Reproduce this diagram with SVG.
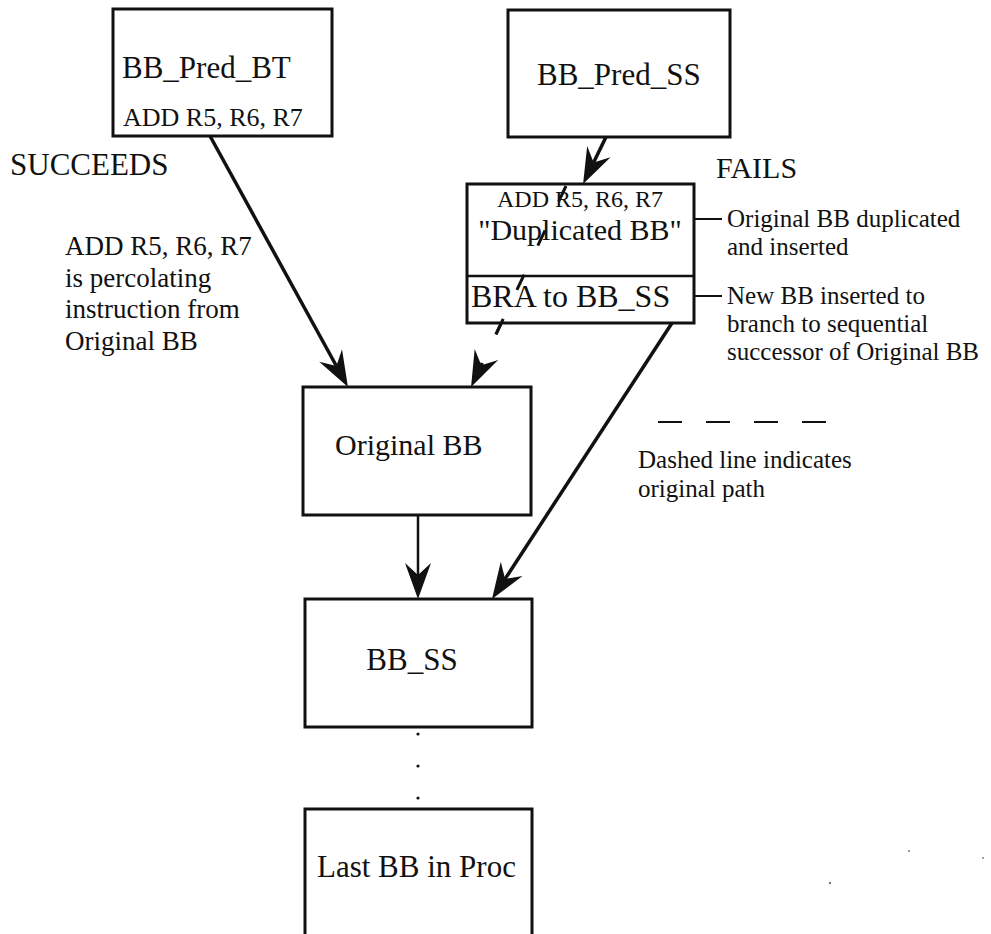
<svg xmlns="http://www.w3.org/2000/svg" width="991" height="934" viewBox="0 0 991 934">
  <style>
    .box { fill: #fff; stroke: #111; stroke-width: 3; }
    .sep { stroke: #111; stroke-width: 2.5; }
    .t { font-family: "Liberation Serif", "Times New Roman", serif; fill: #111; }
    .conn { stroke: #111; stroke-width: 3.5; fill: none; }
    .thin { stroke: #111; stroke-width: 2.5; fill: none; }
    .dash { stroke: #111; stroke-width: 3; fill: none; stroke-dasharray: 17 32; }
    .lead { stroke: #111; stroke-width: 2; }
  </style>
  <defs>
    <!-- barbed arrowhead; the line ends at the notch, tip lies 24 units further on -->
    <marker id="head" markerUnits="userSpaceOnUse" viewBox="-14 -16 40 32" markerWidth="40" markerHeight="32" refX="0" refY="0" orient="auto">
      <path d="M24,0 L-12,-13 L0,0 L-12,13 Z" fill="#111"/>
    </marker>
  </defs>
  <rect width="991" height="934" fill="#fff"/>

  <g id="connectors">
    <line class="conn" x1="210" y1="136" x2="336.4" y2="366" marker-end="url(#head)"/>
    <line class="conn" x1="606" y1="137" x2="593.6" y2="162.4" marker-end="url(#head)"/>
    <line class="dash" x1="566" y1="186" x2="481.3" y2="365.3" marker-end="url(#head)"/>
    <line class="conn" x1="672" y1="323" x2="505.1" y2="578.9" marker-end="url(#head)"/>
    <line class="thin" x1="418" y1="515" x2="418" y2="575" marker-end="url(#head)"/>
    <line class="lead" x1="683" y1="219" x2="722" y2="219"/>
    <line class="lead" x1="683" y1="296" x2="722" y2="296"/>
  </g>

  <g id="bb-pred-bt">
    <rect class="box" x="113" y="9" width="219" height="127"/>
    <text class="t" x="122" y="78" font-size="31">BB_Pred_BT</text>
    <text class="t" x="123" y="126" font-size="26">ADD R5, R6, R7</text>
  </g>

  <g id="bb-pred-ss">
    <rect class="box" x="508" y="10" width="222" height="127"/>
    <text class="t" x="537" y="85" font-size="31">BB_Pred_SS</text>
  </g>

  <g id="duplicated-bb">
    <rect class="box" x="467" y="184" width="227" height="139"/>
    <line class="sep" x1="467" y1="276" x2="694" y2="276"/>
    <text class="t" x="580" y="207" font-size="24" text-anchor="middle">ADD R5, R6, R7</text>
    <text class="t" x="580" y="240" font-size="30" text-anchor="middle">"Duplicated BB"</text>
    <text class="t" x="471" y="307" font-size="32">BRA to BB_SS</text>
  </g>

  <!-- dashed path drawn again so it runs over the box text -->
  <g id="original-path">
    <line class="dash" x1="566" y1="186" x2="481.3" y2="365.3"/>
  </g>

  <g id="original-bb">
    <rect class="box" x="303" y="387" width="228" height="128"/>
    <text class="t" x="335" y="455" font-size="30">Original BB</text>
  </g>

  <g id="bb-ss">
    <rect class="box" x="305" y="599" width="227" height="128"/>
    <text class="t" x="412" y="670" font-size="31" text-anchor="middle">BB_SS</text>
  </g>

  <g id="ellipsis" fill="#111">
    <circle cx="418" cy="734" r="1.6"/>
    <circle cx="418" cy="766" r="1.6"/>
    <circle cx="418" cy="798" r="1.6"/>
  </g>

  <g id="last-bb">
    <rect class="box" x="305" y="809" width="227" height="140"/>
    <text class="t" x="317" y="877" font-size="31">Last BB in Proc</text>
  </g>

  <g id="labels">
    <text class="t" x="10" y="175" font-size="31">SUCCEEDS</text>
    <text class="t" x="716" y="178" font-size="30">FAILS</text>
    <text class="t" font-size="27">
      <tspan x="65" y="255">ADD R5, R6, R7</tspan>
      <tspan x="65" y="287">is percolating</tspan>
      <tspan x="65" y="318">instruction from</tspan>
      <tspan x="65" y="350">Original BB</tspan>
    </text>
    <text class="t" font-size="25">
      <tspan x="727" y="227">Original BB duplicated</tspan>
      <tspan x="727" y="255">and inserted</tspan>
    </text>
    <text class="t" font-size="25">
      <tspan x="727" y="304">New BB inserted to</tspan>
      <tspan x="727" y="332">branch to sequential</tspan>
      <tspan x="727" y="360">successor of Original BB</tspan>
    </text>
  </g>

  <g id="legend">
    <line class="lead" x1="658" y1="422" x2="827" y2="422" stroke-width="3" stroke-dasharray="24 24"/>
    <text class="t" font-size="25">
      <tspan x="638" y="468">Dashed line indicates</tspan>
      <tspan x="638" y="497">original path</tspan>
    </text>
  </g>

  <g id="specks" fill="#777">
    <circle cx="830" cy="883" r="1.2"/>
    <circle cx="909" cy="851" r="1"/>
    <circle cx="983" cy="858" r="0.9"/>
  </g>
</svg>
